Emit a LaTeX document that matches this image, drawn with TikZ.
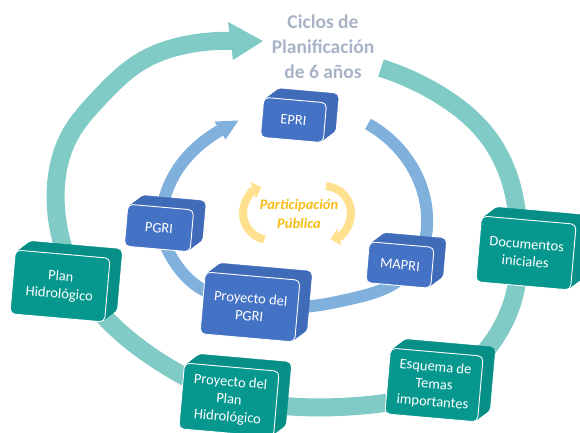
\documentclass[tikz,border=0pt]{standalone}
\usepackage{fontspec}
\setmainfont{Carlito}
\usetikzlibrary{calc,arrows.meta,hobby}
\definecolor{ringteal}{HTML}{80CBC6}
\definecolor{ringblue}{HTML}{7FB1DC}
\definecolor{boxblue}{HTML}{4472C4}
\definecolor{boxteal}{HTML}{06988F}
\definecolor{titlecol}{HTML}{A8B3C7}
\definecolor{ppcol}{HTML}{F7BD16}
\definecolor{arccol}{HTML}{FFE08E}
\tikzset{
  cubeface/.style={rectangle, rounded corners=5pt, rotate=-5, inner sep=2pt,
    align=center, text=white, font=\fontsize{14.5}{17.5}\selectfont},
  titletext/.style={align=center, text=titlecol, font=\bfseries\fontsize{19.5}{25}\selectfont},
  pptext/.style={align=center, text=ppcol, font=\bfseries\itshape\fontsize{14.5}{19}\selectfont},
  outerring/.style={draw=ringteal, line width=18pt},
  innerring/.style={draw=ringblue, line width=12pt},
  pparc/.style={draw=arccol, line width=8pt, -{Triangle[length=9pt,width=17pt]}},
}
% name, x, y, width, height, face colour, text
\newcommand{\cubebox}[7]{%
  \foreach \k in {12,11,...,1}{%
    \node[cubeface, minimum width=#4, minimum height=#5, fill=#6!94!black, draw=#6!94!black]
      at (#2+\k, #3-0.75*\k) {};
  }
  \node[cubeface, minimum width=#4, minimum height=#5, fill=#6, draw=white, line width=0.9pt]
    (#1) at (#2,#3) {#7};
}
\begin{document}
\begin{tikzpicture}[x=1pt,y=-1pt]
\useasboundingbox (0,0) rectangle (580,432);
% outer ring
\draw[outerring, use Hobby shortcut] (381,68) .. (440,95) .. (485,133) .. (510,180)
  .. (519,240) .. (513,300) .. (488,348) .. (440,388) .. (377,404) .. (300,407)
  .. (230,396) .. (173,370) .. (120,332) .. (80,285) .. (60,235) .. (56,185)
  .. (70,135) .. (100,97) .. (140,62) .. (185,45) .. (232,41);
\fill[ringteal] (228,22) -- (263,41) -- (233,60) -- cycle;
% inner ring
\draw[innerring, use Hobby shortcut] (368,124) .. (400,150) .. (420,183) .. (427,215)
  .. (420,255) .. (395,283) .. (350,299) .. (300,307) .. (245,302) .. (200,288)
  .. (172,258) .. (161,228) .. (164,200) .. (176,172) .. (195,149) .. (220,130.5);
\fill[ringblue] (214.5,121.5) -- (238.5,120.5) -- (225.5,139.5) -- cycle;
% participation arcs
\draw[pparc] (270,213) ++(102:27) arc[start angle=102, end angle=252, radius=27];
\draw[pparc] (324,213) ++(-86:27) arc[start angle=-86, end angle=76, radius=27];
\node[pptext] (pp) at (299,214) {Participación\\Pública};
% title
\node[titletext] (title) at (323,47) {Ciclos de\\Planificación\\de 6 años};
% inner boxes
\cubebox{epri}{293.5}{120}{63pt}{40pt}{boxblue}{EPRI}
\cubebox{pgri}{159}{228}{66pt}{42pt}{boxblue}{PGRI}
\cubebox{mapri}{400}{265}{65pt}{41pt}{boxblue}{MAPRI}
\cubebox{ppgri}{250}{307}{95pt}{62pt}{boxblue}{Proyecto del\\PGRI}
% outer boxes
\cubebox{plan}{60}{286}{95pt}{64pt}{boxteal}{Plan\\Hidrológico}
\cubebox{docs}{526}{253}{95pt}{66pt}{boxteal}{Documentos\\iniciales}
\cubebox{esq}{434}{385}{93pt}{66pt}{boxteal}{Esquema de\\Temas\\importantes}
\cubebox{pplan}{229}{400}{95pt}{66pt}{boxteal}{Proyecto del\\Plan\\Hidrológico}
\end{tikzpicture}
\end{document}
